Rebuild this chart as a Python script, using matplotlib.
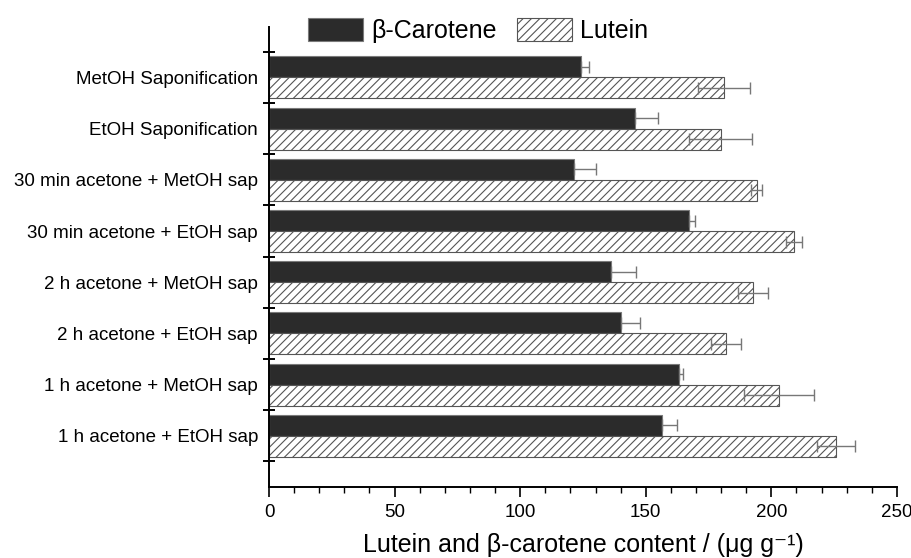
import numpy as np
import matplotlib
matplotlib.use("Agg")
import matplotlib.pyplot as plt
from matplotlib.ticker import MultipleLocator, FixedLocator, NullFormatter

plt.rcParams['font.family'] = ['Liberation Sans', 'DejaVu Sans']
plt.rcParams['hatch.linewidth'] = 0.8

# data (top to bottom)
categories = ["MetOH Saponification", "EtOH Saponification",
              "30 min acetone + MetOH sap", "30 min acetone + EtOH sap",
              "2 h acetone + MetOH sap", "2 h acetone + EtOH sap",
              "1 h acetone + MetOH sap", "1 h acetone + EtOH sap"]
carotene = [124.2, 145.9, 121.4, 167.2, 136.3, 140.2, 163.2, 156.3]
carotene_err = [3.0, 9.0, 8.6, 2.2, 10.0, 7.5, 1.7, 6.3]
lutein = [181.0, 179.8, 194.2, 209.1, 192.7, 182.0, 203.0, 225.8]
lutein_err = [10.3, 12.4, 2.2, 3.2, 6.0, 6.0, 13.8, 7.5]

fig = plt.figure(figsize=(9.11, 5.58), dpi=100)
ax = fig.add_axes([0.2953, 0.1272, 0.6893, 0.824])

y = np.arange(len(categories))
h = 0.41
err_kw = dict(ecolor='#777777', elinewidth=1.0, capsize=4.5, capthick=1.0)

ax.barh(y - h / 2, carotene, height=h, color='#2b2b2b', edgecolor='#7a7a7a',
        linewidth=0.8, xerr=[np.zeros(len(carotene)), carotene_err],
        error_kw=err_kw, label='\u03b2-Carotene')
ax.barh(y + h / 2, lutein, height=h, color='white', edgecolor='#555555',
        linewidth=0.8, hatch='////', xerr=lutein_err,
        error_kw=err_kw, label='Lutein')

ax.set_xlim(0, 250)
ax.set_ylim(8.0, -0.98)

ax.spines['top'].set_visible(False)
ax.spines['right'].set_visible(False)
ax.spines['left'].set_linewidth(1.4)
ax.spines['bottom'].set_linewidth(1.4)

ax.xaxis.set_major_locator(MultipleLocator(50))
ax.xaxis.set_minor_locator(MultipleLocator(10))
ax.tick_params(axis='x', which='major', direction='out', length=7, width=1.2,
               labelsize=13.5, pad=5)
ax.tick_params(axis='x', which='minor', direction='out', length=4, width=1.0)

# boundaries as major ticks, category labels on minor ticks
ax.yaxis.set_major_locator(FixedLocator(np.arange(-0.5, 8.0, 1.0)))
ax.yaxis.set_major_formatter(NullFormatter())
ax.yaxis.set_minor_locator(FixedLocator(y))
ax.set_yticklabels(categories, minor=True)
ax.tick_params(axis='y', which='major', direction='inout', length=9, width=1.4)
ax.tick_params(axis='y', which='minor', length=0, labelsize=13.5, pad=8)

ax.set_xlabel('Lutein and \u03b2-carotene content / (\u03bcg g\u207b\u00b9)',
              fontsize=18, labelpad=9)

fig.legend(loc='center', bbox_to_anchor=(0.525, 0.945), ncol=2, frameon=False,
           fontsize=18, handlelength=2.2, handleheight=1.05,
           handletextpad=0.32, columnspacing=0.8, borderpad=0)

fig.savefig('out.png', dpi=100)
